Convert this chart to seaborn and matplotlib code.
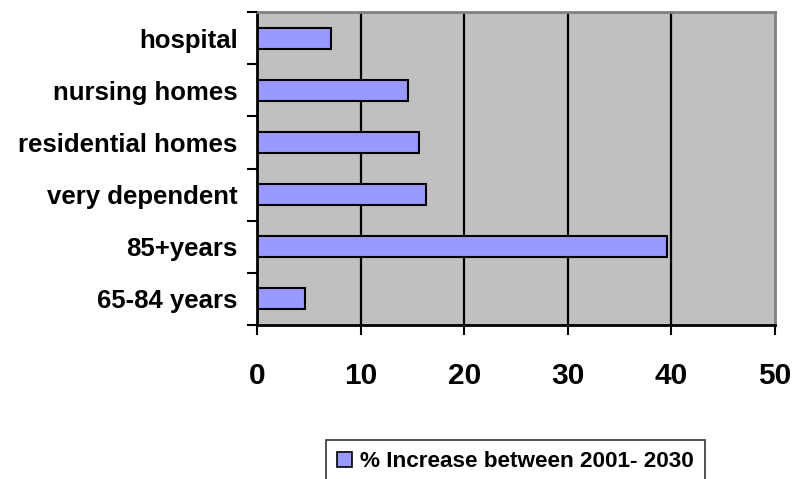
import matplotlib
matplotlib.use("Agg")
import matplotlib.pyplot as plt
from matplotlib.patches import Patch
import seaborn as sns
import pandas as pd

# Projected change in older population and care demand
categories = ["hospital", "nursing homes", "residential homes",
              "very dependent", "85+years", "65-84 years"]
increase = [7.1, 14.6, 15.6, 16.3, 39.6, 4.6]
series_label = "% Increase between 2001- 2030"
x_ticks = [0, 10, 20, 30, 40, 50]

sns.set_theme(style="white")
plt.rcParams["font.family"] = ["Liberation Sans", "DejaVu Sans"]
plt.rcParams["font.weight"] = "bold"
plt.rcParams["text.color"] = "black"
plt.rcParams["xtick.color"] = "black"
plt.rcParams["ytick.color"] = "black"
plt.rcParams["xtick.labelcolor"] = "black"
plt.rcParams["ytick.labelcolor"] = "black"

df = pd.DataFrame({"category": categories, "value": increase})

fig = plt.figure(figsize=(7.94, 4.79), dpi=100)
ax = fig.add_axes([257 / 794, 1 - 325 / 479, (775 - 257) / 794, (325 - 12) / 479])
ax.set_facecolor("#C0C0C0")

bar_color = "#9999FF"
sns.barplot(data=df, x="value", y="category", orient="h", color=bar_color,
            edgecolor="black", linewidth=1.5, width=0.4, saturation=1, ax=ax)

ax.set_xlim(0, 50)
ax.set_ylim(len(categories) - 0.5, -0.5)
ax.set_xlabel("")
ax.set_ylabel("")

# vertical gridlines at the major x ticks
for xv in x_ticks[1:-1]:
    ax.axvline(xv, color="black", linewidth=1.6, zorder=0.5)

ax.set_xticks(x_ticks)
ax.set_xticklabels([str(v) for v in x_ticks], fontsize=21.5, fontweight="bold",
                   color="black")
ax.tick_params(axis="x", direction="out", length=7, width=1.5, pad=20,
               color="black", bottom=True)

# category labels centred on bars, tick marks on band boundaries
ax.set_yticks(range(len(categories)))
ax.set_yticklabels(categories, fontsize=18.5, fontweight="bold", color="black")
ax.tick_params(axis="y", which="major", length=0, pad=14)
ax.set_yticks([i - 0.5 for i in range(len(categories) + 1)], minor=True)
ax.tick_params(axis="y", which="minor", direction="out", length=7, width=1.5,
               color="black", left=True)

for side in ("left", "bottom"):
    ax.spines[side].set_color("black")
    ax.spines[side].set_linewidth(2)
for side in ("top", "right"):
    ax.spines[side].set_color("#808080")
    ax.spines[side].set_linewidth(2)
ax.set_axisbelow(False)

handle = Patch(facecolor=bar_color, edgecolor="black", linewidth=1.2)
leg = fig.legend([handle], [series_label], loc="upper left",
                 bbox_to_anchor=(326 / 794, 1 - 440 / 479),
                 prop={"size": 16.2, "weight": "bold"},
                 frameon=True, fancybox=False, shadow=False,
                 handlelength=0.65, handleheight=0.65, handletextpad=0.35,
                 borderpad=0.5, borderaxespad=0)
leg.get_frame().set_edgecolor("black")
leg.get_frame().set_linewidth(1.2)
leg.get_frame().set_facecolor("white")
for t in leg.get_texts():
    t.set_color("black")

fig.savefig("out.png", dpi=100)
